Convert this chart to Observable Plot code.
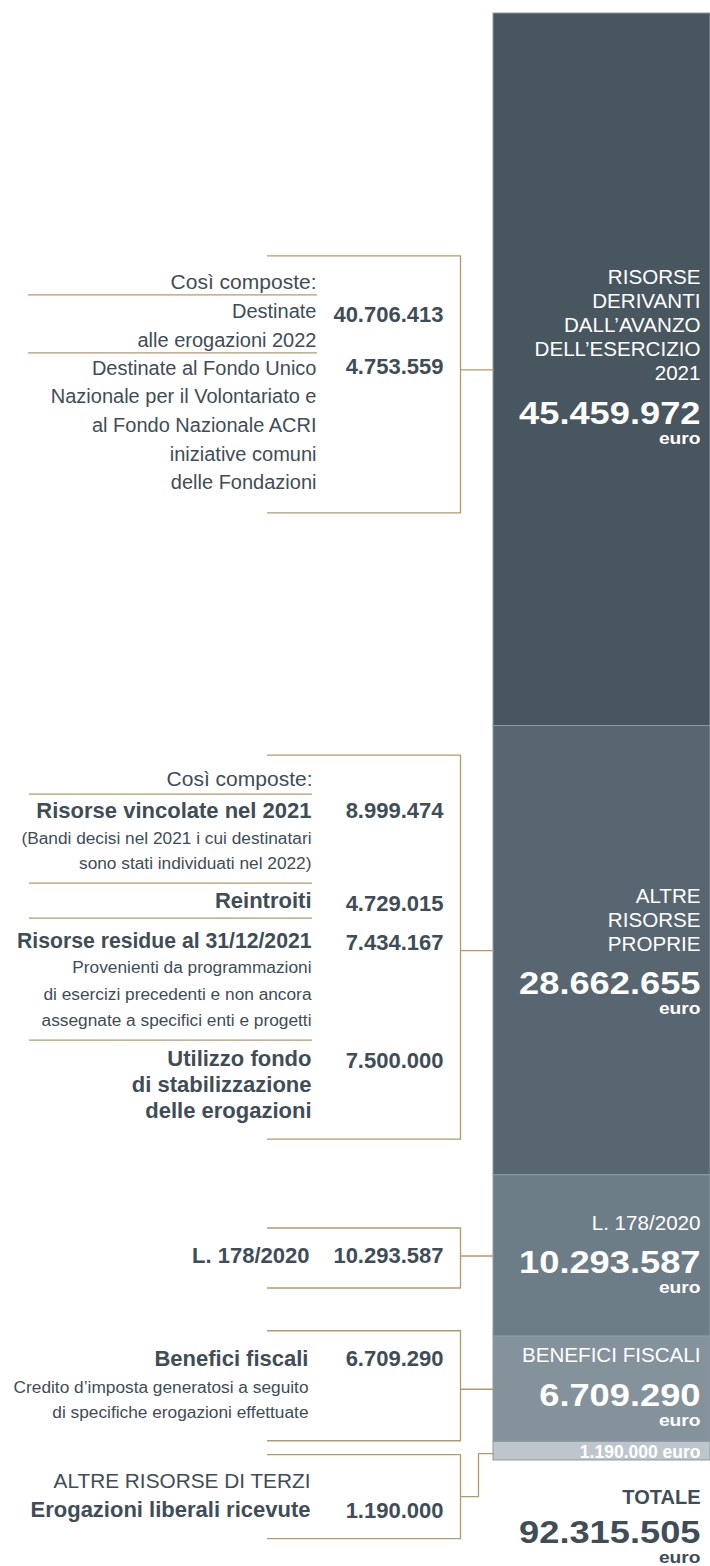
<!DOCTYPE html>
<html><head><meta charset="utf-8">
<script src="https://cdn.jsdelivr.net/npm/d3@7"></script>
<script src="https://cdn.jsdelivr.net/npm/@observablehq/plot@0.6"></script>
<style>
html,body{margin:0;padding:0;background:#fff;}
#chart svg{display:block;}
</style>
</head><body><div id="chart"></div>
<script>
// ---------------- DATA ----------------
const segmentLabels = ["RISORSE\nDERIVANTI\nDALL’AVANZO\nDELL’ESERCIZIO\n2021", "ALTRE\nRISORSE\nPROPRIE", "L. 178/2020", "BENEFICI FISCALI", ""];
const segmentValues = [45459972, 28662655, 10293587, 6709290, 1190000];
const totalValue = 92315505;
const unitLabel = "euro";
const totalLabel = "TOTALE";

const introLabel = "Così composte:";
const avanzoLabels = ["Destinate\nalle erogazioni 2022", "Destinate al Fondo Unico\nNazionale per il Volontariato e\nal Fondo Nazionale ACRI\niniziative comuni\ndelle Fondazioni"];
const avanzoValues = [40706413, 4753559];
const proprieLabels = ["Risorse vincolate nel 2021", "Reintroiti", "Risorse residue al 31/12/2021", "Utilizzo fondo\ndi stabilizzazione\ndelle erogazioni"];
const proprieNotes = ["(Bandi decisi nel 2021 i cui destinatari\nsono stati individuati nel 2022)", "", "Provenienti da programmazioni\ndi esercizi precedenti e non ancora\nassegnate a specifici enti e progetti", ""];
const proprieValues = [8999474, 4729015, 7434167, 7500000];
const leggeLabel = "L. 178/2020";
const leggeValue = 10293587;
const beneficiLabel = "Benefici fiscali";
const beneficiNote = "Credito d’imposta generatosi a seguito\ndi specifiche erogazioni effettuate";
const beneficiValue = 6709290;
const terziTitle = "ALTRE RISORSE DI TERZI";
const terziLabel = "Erogazioni liberali ricevute";
const terziValue = 1190000;

// ---------------- LAYOUT / STYLE ----------------
const W = 710, H = 1566, BAR_TOP = 13, BAR_BOTTOM = 1460, BAR_X1 = 493, BAR_X2 = 710;
const segColors = ["#47565f", "#576670", "#6d7d87", "#84939b", "#bcc6cc"];
const DARK = "#3e4d57", GOLD = "#b39a6b", FONT = "'Liberation Sans', Arial, Helvetica, sans-serif";
const fmt = d3.formatLocale({decimal: ",", thousands: ".", grouping: [3], currency: ["", ""]}).format(",d");

const total = d3.sum(segmentValues);
const k = (BAR_BOTTOM - BAR_TOP) / total;
const ends = d3.cumsum(segmentValues);
const segs = segmentValues.map((v, i) => ({i, label: segmentLabels[i], value: v, mid: ends[i] - v / 2}));
const at = (seg, off) => (seg < 0 ? total : segs[seg].mid) + off / k;

const textRows = [];   // left-side texts
function lines(seg, off, lh, text, size, bold, x) {
  text.split("\n").forEach((t, j) => textRows.push({y: at(seg, off + j * lh), text: t, size, bold, x}));
}
const valueRows = [];
const ruleRows = [];
const bracketPts = [];
function bracket(seg, t, b) {
  const id = "b" + seg;
  [[267, t], [460, t], [460, b], [267, b]].forEach(([x, o]) => bracketPts.push({id, x, y: at(seg, o)}));
  if (seg < 4) {
    bracketPts.push({id: id + "c", x: 460, y: at(seg, 0)}, {id: id + "c", x: BAR_X1, y: at(seg, 0)});
  }
}

// block 1
lines(0, -81, 0, introLabel, 21, false, 316);
lines(0, -52, 29, avanzoLabels[0], 20, false, 316);
lines(0, 5, 28.6, avanzoLabels[1], 20, false, 316);
[-48, 4].forEach((o, j) => valueRows.push({y: at(0, o), text: fmt(avanzoValues[j])}));
[-75, -17].forEach(o => ruleRows.push({y: at(0, o), x1: 28, x2: 317}));
bracket(0, -114, 143);

// block 2
lines(1, -164.5, 0, introLabel, 21, false, 312);
const headOff = [-132.5, -42.5, -2.5, 115.5];
const headSize = [22, 22, 21.2, 22];
const noteOff = [-106.5, 0, 22.5, 0];
const noteLh = [25, 0, 26.5, 0];
const valOff = [-132.5, -39.5, -0.5, 117.5];
proprieLabels.forEach((t, j) => {
  lines(1, headOff[j], 26, t, headSize[j], true, 311);
  if (proprieNotes[j]) lines(1, noteOff[j], noteLh[j], proprieNotes[j], 17.3, false, 311);
  valueRows.push({y: at(1, valOff[j]), text: fmt(proprieValues[j])});
});
[-156.5, -67.5, -32.5, 89.5].forEach(o => ruleRows.push({y: at(1, o), x1: 29, x2: 312}));
bracket(1, -195.5, 188.5);

// block 3
lines(2, 7, 0, leggeLabel, 22, true, 309);
valueRows.push({y: at(2, 7), text: fmt(leggeValue)});
bracket(2, -28, 32);

// block 4
lines(3, -23.5, 0, beneficiLabel, 22, true, 308);
lines(3, 3.5, 25, beneficiNote, 17.3, false, 308);
valueRows.push({y: at(3, -23.5), text: fmt(beneficiValue)});
bracket(3, -58.5, 51.5);

// block 5
lines(4, 36.5, 0, terziTitle, 20.8, false, 310);
lines(4, 65.5, 0, terziLabel, 22, true, 310);
valueRows.push({y: at(4, 66.5), text: fmt(terziValue)});
bracket(4, 3.5, 87.5);
[[460, 45.5], [478, 45.5], [478, 2.5], [BAR_X1, 2.5]].forEach(([x, o]) => bracketPts.push({id: "b4c", x, y: at(4, o)}));

// right-side labels
const numOff = [54, 43.5, 17, 16.5];
const titleRows = [];
segs.slice(0, 4).forEach((d, i) => {
  const ls = d.label.split("\n");
  const last = numOff[i] - 43.5;
  ls.forEach((t, j) => titleRows.push({y: at(i, last - (ls.length - 1 - j) * 24), text: t}));
});
const bigRows = segs.slice(0, 4).map((d, i) => ({y: at(i, numOff[i]), text: fmt(d.value), fill: "#ffffff"}));
const euroRows = segs.slice(0, 4).map((d, i) => ({y: at(i, numOff[i] + 20), text: unitLabel, fill: "#ffffff"}));
bigRows.push({y: at(-1, 82), text: fmt(totalValue), fill: DARK});
euroRows.push({y: at(-1, 102), text: unitLabel, fill: DARK});

const plot = Plot.plot({
  width: W, height: H, margin: 0,
  x: {type: "identity", axis: null},
  y: {domain: [0, total], range: [BAR_TOP, BAR_BOTTOM], axis: null},
  color: {type: "identity"},
  style: {fontFamily: FONT, background: "#fff"},
  marks: [
    Plot.rectY(segs, {x1: BAR_X1, x2: BAR_X2, y: "value", fill: d => segColors[d.i], stroke: "#8d99a1", strokeWidth: 1}),
    Plot.ruleY(ruleRows, {y: "y", x1: "x1", x2: "x2", stroke: GOLD, strokeWidth: 1.3}),
    Plot.line(bracketPts, {x: "x", y: "y", z: "id", stroke: GOLD, strokeWidth: 1.3, curve: "linear"}),
    Plot.text(textRows.filter(d => !d.bold), {x: "x", y: "y", text: "text", fontSize: "size", fill: DARK, textAnchor: "end", lineAnchor: "bottom", fontFamily: FONT}),
    Plot.text(textRows.filter(d => d.bold), {x: "x", y: "y", text: "text", fontSize: "size", fill: DARK, textAnchor: "end", lineAnchor: "bottom", fontWeight: 700, fontFamily: FONT}),
    Plot.text(valueRows, {x: 443, y: "y", text: "text", fontSize: 22, fill: DARK, textAnchor: "end", lineAnchor: "bottom", fontWeight: 700, fontFamily: FONT}),
    Plot.text(titleRows, {x: 700, y: "y", text: "text", fontSize: 20.6, fill: "#ffffff", textAnchor: "end", lineAnchor: "bottom", fontFamily: FONT}),
    Plot.text(bigRows, {x: 700, y: "y", text: "text", fontSize: 31, fill: "fill", textAnchor: "end", lineAnchor: "bottom", fontWeight: 700, fontFamily: FONT, ariaDescription: "bignum"}),
    Plot.text(euroRows, {x: 700, y: "y", text: "text", fontSize: 16, fill: "fill", textAnchor: "end", lineAnchor: "bottom", fontWeight: 700, fontFamily: FONT, ariaDescription: "euro"}),
    Plot.text([segs[4]], {x: 700, y: d => at(4, 6.5), text: d => fmt(d.value) + " " + unitLabel, fontSize: 17.5, fill: "#ffffff", textAnchor: "end", lineAnchor: "bottom", fontWeight: 700, fontFamily: FONT}),
    Plot.text([totalLabel], {x: 700, y: () => at(-1, 43), text: d => d, fontSize: 20, fill: DARK, textAnchor: "end", lineAnchor: "bottom", fontWeight: 700, fontFamily: FONT})
  ]
});
document.getElementById("chart").appendChild(plot);
// the reference's bold figures are a wide (extended) cut: stretch horizontally
function stretch(desc, sx) {
  d3.select(plot).selectAll(`[aria-description="${desc}"] text`).each(function () {
    const t = this.getAttribute("transform") || "";
    this.setAttribute("transform", t + ` scale(${sx},1)`);
  });
}
stretch("bignum", 1.17);
stretch("euro", 1.2);
</script>
</body></html>
